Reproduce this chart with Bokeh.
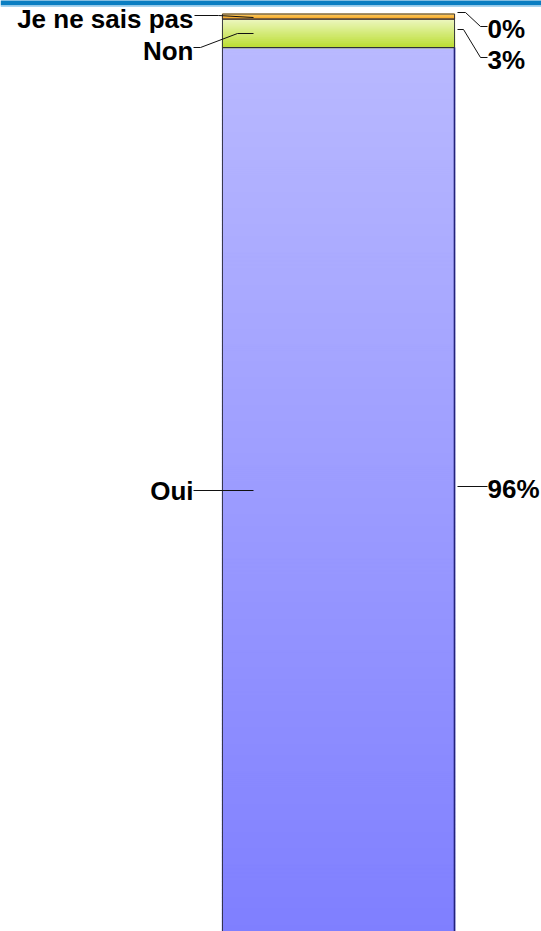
from bokeh.plotting import figure
from bokeh.models import Range1d
from bokeh.embed import file_html
from bokeh.resources import INLINE
from bokeh.core.properties import value

# ---- data ----
categories = ["Oui", "Non", "Je ne sais pas"]
shares = [96.4, 3.1, 0.55]          # % of answers (stacked, bottom to top)
pct_labels = ["96%", "3%", "0%"]

# ---- styles ----
grad_top = ["#B9B9FF", "#EEF8C4", "#FFD878"]
grad_bot = ["#7F7FFF", "#BCDE34", "#F5A623"]
n_slices = [220, 14, 3]
FONT = value("Liberation Sans")

W, H = 541, 931
XS = 232.0                 # px per x unit (bar width = 1)
X_START = -0.5 - 222 / XS
YS = 9.19                  # px per percent
Y_END = 100 + 14 / YS


def xd(px):
    return X_START + px / XS


def yd(py):
    return Y_END - py / YS


p = figure(width=W, height=H, output_backend="svg", toolbar_location=None,
           x_range=Range1d(X_START, X_START + W / XS),
           y_range=Range1d(Y_END - H / YS, Y_END),
           min_border=0, outline_line_color=None)
p.axis.visible = False
p.grid.visible = False
p.background_fill_color = "white"
p.border_fill_color = "white"


def hex2rgb(h):
    h = h.lstrip("#")
    return tuple(int(h[i:i + 2], 16) for i in (0, 2, 4))


def mix(c1, c2, t):
    a, b = hex2rgb(c1), hex2rgb(c2)
    return "#%02x%02x%02x" % tuple(int(round(a[i] + (b[i] - a[i]) * t)) for i in range(3))


# stacked bar with vertical gradients
bottoms = []
acc = 0.0
for v in shares:
    bottoms.append(acc)
    acc += v
tops = [b + v for b, v in zip(bottoms, shares)]

for i, (b, t) in enumerate(zip(bottoms, tops)):
    n = n_slices[i]
    lefts, rights, bs, ts, cols = [], [], [], [], []
    for k in range(n):
        s_top = t - (t - b) * k / n
        s_bot = t - (t - b) * (k + 1) / n
        lefts.append(-0.5)
        rights.append(0.5)
        ts.append(s_top)
        bs.append(s_bot)
        cols.append(mix(grad_top[i], grad_bot[i], (k + 0.5) / n))
    p.quad(left=lefts, right=rights, bottom=bs, top=ts, fill_color=cols,
           line_color=cols, line_width=1.5)

p.quad(left=[-0.5] * 3, right=[0.5] * 3, bottom=bottoms, top=tops,
       fill_color=None, line_color="#2b2b3a", line_width=0.9)
# darker blue right edge
p.segment(x0=[0.5], x1=[0.5], y0=[bottoms[0]], y1=[tops[0]],
          line_color="#23237a", line_width=1.6)

# top decorative band
p.quad(left=[X_START], right=[X_START + W / XS], top=[Y_END + 2], bottom=[yd(5)],
       fill_color="#0A7EC2", line_color=None)
p.quad(left=[X_START], right=[X_START + W / XS], top=[yd(5)], bottom=[yd(6.5)],
       fill_color="#A8D4F0", line_color=None)

# leader lines (pixel layout)
left_lines = [
    [(193, 490), (253, 490)],
    [(193, 47), (200, 47), (237, 33), (253, 33)],
    [(194, 15), (218, 15), (253, 17)],
]
right_lines = [
    [(457, 486), (487, 486)],
    [(457, 29), (463, 29), (480, 57), (487, 57)],
    [(457, 12), (465, 12), (480, 26), (487, 26)],
]
for ln in left_lines + right_lines:
    p.line([xd(a) for a, _ in ln], [yd(c) for _, c in ln], line_color="#111111", line_width=1)

left_y = [490, 50, 18]
right_y = [488, 59, 28]
p.text(x=[xd(193)] * 3, y=[yd(v) for v in left_y], text=categories,
       text_font=FONT, text_font_style="bold", text_font_size="26px",
       text_align="right", text_baseline="middle", text_color="#000000")
p.text(x=[xd(487)] * 3, y=[yd(v) for v in right_y], text=pct_labels,
       text_font=FONT, text_font_style="bold", text_font_size="26px",
       text_align="left", text_baseline="middle", text_color="#000000")

open("out.html", "w").write(file_html(p, INLINE))
